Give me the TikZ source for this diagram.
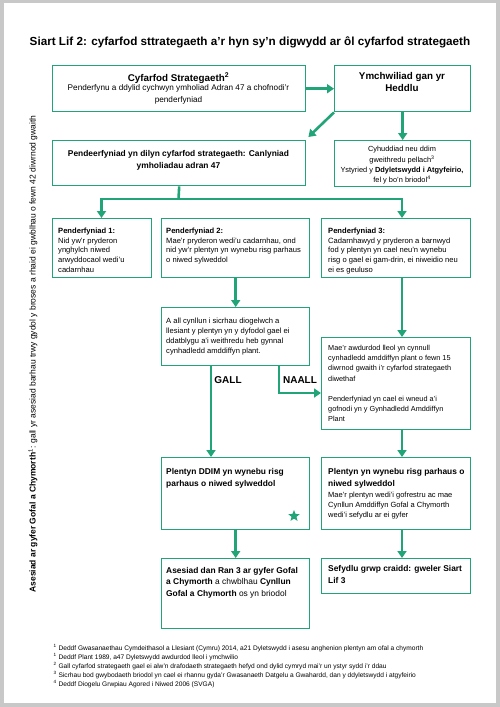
\documentclass[tikz,border=0pt]{standalone}
\usepackage{fontspec}
\setmainfont{Liberation Sans}
\usetikzlibrary{arrows.meta,shapes.geometric}
\definecolor{grn}{RGB}{32,164,120}
\definecolor{framegray}{RGB}{200,200,200}
\newcommand\fs[2]{\fontsize{#1}{#2}\selectfont}
\newcommand\bx[5]{\node[box,minimum width={#4-#2},minimum height={#5-#3},anchor=north west] (#1) at (#2,#3) {};}
\begin{document}
\begin{tikzpicture}[x=1pt,y=-1pt,
  box/.style={draw=grn,line width=1.4pt,inner sep=0pt,fill=white},
  arr/.style={draw=grn,line width=2.6pt,-{Triangle[width=9pt,length=7pt]}},
  ln/.style={draw=grn,line width=2.6pt},
  ctxt/.style={anchor=north,inner sep=0pt,align=center},
  ltxt/.style={anchor=north west,inner sep=0pt,align=left},
  body/.style={font=\fs{7.6}{9.6}},
  bhead/.style={font=\fs{8.4}{12}\bfseries},
  lab/.style={font=\fs{10}{12}\bfseries,anchor=base,inner sep=0pt},
]
\useasboundingbox (0,0) rectangle (500,707);
\fill[framegray] (0,0) rectangle (500,707);
\fill[white] (4,3) rectangle (496,703);

\node[anchor=base,inner sep=0pt,font=\fs{11.7}{14}\bfseries] (title) at (250,45)
  {Siart Lif 2: cyfarfod sttrategaeth a’r hyn sy’n digwydd ar ôl cyfarfod strategaeth};

% boxes
\bx{b1}{52}{65}{305}{111}
\bx{b2}{334}{65}{470}{111}
\bx{b3}{52}{140}{305}{185}
\bx{b4}{334}{140}{470}{186}
\bx{b5}{52}{218}{151}{277}
\bx{b6}{161}{218}{309}{277}
\bx{b7}{321}{218}{470}{277}
\bx{b8}{161}{307}{309}{365}
\bx{b9}{321}{337}{470}{429}
\bx{b10}{161}{457}{309}{529}
\bx{b11}{321}{457}{470}{529}
\bx{b12}{161}{558}{309}{628}
\bx{b13}{321}{558}{470}{593}

% texts
\node[ctxt,font=\fs{9.8}{12}\bfseries] (t1a) at (178.5,72.4) {Cyfarfod Strategaeth\textsuperscript{2}};
\node[ctxt,font=\fs{8.2}{12}] (t1b) at (178.5,84.6) {Penderfynu a ddylid cychwyn ymholiad Adran 47 a chofnodi’r\\penderfyniad};
\node[ctxt,font=\fs{9.8}{12}\bfseries] (t2) at (402,72.4) {Ymchwiliad gan yr\\Heddlu};
\node[ctxt,bhead] (t3) at (178.5,150) {Pendeerfyniad yn dilyn cyfarfod strategaeth: Canlyniad\\ymholiadau adran 47};
\node[ctxt,font=\fs{7.4}{10.3}] (t4) at (402,146.3) {Cyhuddiad neu ddim\\gweithredu pellach\textsuperscript{3}\\Ystyried y \textbf{Ddyletswydd i Atgyfeirio,}\\fel y bo’n briodol\textsuperscript{4}};
\node[ltxt,body] (t5) at (58,228) {\textbf{Penderfyniad 1:}\\Nid yw’r pryderon\\ynghylch niwed\\arwyddocaol wedi’u\\cadarnhau};
\node[ltxt,body] (t6) at (166,228) {\textbf{Penderfyniad 2:}\\Mae’r pryderon wedi’u cadarnhau, ond\\nid yw’r plentyn yn wynebu risg parhaus\\o niwed sylweddol};
\node[ltxt,body] (t7) at (328,228) {\textbf{Penderfyniad 3:}\\Cadarnhawyd y pryderon a barnwyd\\fod y plentyn yn cael neu’n wynebu\\risg o gael ei gam-drin, ei niweidio neu\\ei es geuluso};
\node[ltxt,font=\fs{7.6}{10}] (t8) at (166,318) {A all cynllun i sicrhau diogelwch a\\llesiant y plentyn yn y dyfodol gael ei\\ddatblygu a’i weithredu heb gynnal\\cynhadledd amddiffyn plant.};
\node[ltxt,font=\fs{7.3}{10.1}] (t9) at (328,345.3) {Mae’r awdurdod lleol yn cynnull\\cynhadledd amddiffyn plant o fewn 15\\diwrnod gwaith i’r cyfarfod strategaeth\\diwethaf\\[10.1pt]Penderfyniad yn cael ei wneud a’i\\gofnodi yn y Gynhadledd Amddiffyn\\Plant};
\node[ltxt,bhead] (t10) at (166,468) {Plentyn DDIM yn wynebu risg\\parhaus o niwed sylweddol};
\node[ltxt,bhead] (t11a) at (328,468) {Plentyn yn wynebu risg parhaus o\\niwed sylweddol};
\node[ltxt,font=\fs{7.5}{10}] (t11b) at (328,492.3) {Mae’r plentyn wedi’i gofrestru ac mae\\Cynllun Amddiffyn Gofal a Chymorth\\wedi’i sefydlu ar ei gyfer};
\node[ltxt,font=\fs{8.4}{11.7}] (t12) at (166,567) {\textbf{Asesiad dan Ran 3 ar gyfer Gofal}\\\textbf{a Chymorth} a chwblhau \textbf{Cynllun}\\\textbf{Gofal a Chymorth} os yn briodol};
\node[ltxt,bhead] (t13) at (328,565) {Sefydlu grwp craidd: gweler Siart\\Lif 3};

\node[star,star points=5,star point ratio=2.3,fill=grn,inner sep=0pt,minimum size=12pt] (star) at (294,516) {};

% side label
\node[rotate=90,inner sep=0pt,font=\fs{8.5}{10}] (side) at (33,354)
  {\textbf{Asesiad ar gyfer Gofal a Chymorth}\textsuperscript{1}: gall yr asesiad barhau trwy gydol y broses a rhaid ei gwblhau o fewn 42 diwrnod gwaith};

% footnotes
\node[ltxt,font=\fs{6.6}{9}] (fn) at (53.5,643.8) {%
\textsuperscript{1} Deddf Gwasanaethau Cymdeithasol a Llesiant (Cymru) 2014, a21 Dyletswydd i asesu anghenion plentyn am ofal a chymorth\\
\textsuperscript{1} Deddf Plant 1989, a47 Dyletswydd awdurdod lleol i ymchwilio\\
\textsuperscript{2} Gall cyfarfod strategaeth gael ei alw’n drafodaeth strategaeth hefyd ond dylid cymryd mai’r un ystyr sydd i’r ddau\\
\textsuperscript{3} Sicrhau bod gwybodaeth briodol yn cael ei rhannu gyda’r Gwasanaeth Datgelu a Gwahardd, dan y ddyletswydd i atgyfeirio\\
\textsuperscript{4} Deddf Diogelu Grwpiau Agored i Niwed 2006 (SVGA)};

% connector helpers
\coordinate (colR) at (402,0);
\coordinate (fork) at (178.5,199);
\coordinate (forkL) at (101.5,199);
\coordinate (gx) at (211,0);
\coordinate (nk) at (279,393);

\draw[arr] (b1.east) -- (b2.west);
\draw[arr] (b2.south west) -- ([xshift=2pt,yshift=3pt]b3.north east);
\draw[arr] (b2.south) -- (b4.north);
\draw[ln] (b3.south) -- (fork);
\draw[arr] (fork) -- (forkL) -- (forkL |- b5.north);
\draw[arr] (fork) -- (fork -| colR) -- (b7.north -| colR);
\draw[arr] (b6.south) -- (b8.north);
\draw[arr] (b7.south -| colR) -- (b9.north -| colR);
\draw[arr] (b8.south -| gx) -- (b10.north -| gx);
\node[lab] (gall) at (228,383) {GALL};
\draw[arr] (b8.south -| nk) -- (nk) -- (nk -| b9.west);
\node[lab] (naall) at (300,383) {NAALL};
\draw[arr] (b9.south -| colR) -- (b11.north -| colR);
\draw[arr] (b10.south) -- (b12.north);
\draw[arr] (b11.south -| colR) -- (b13.north -| colR);
\end{tikzpicture}
\end{document}
